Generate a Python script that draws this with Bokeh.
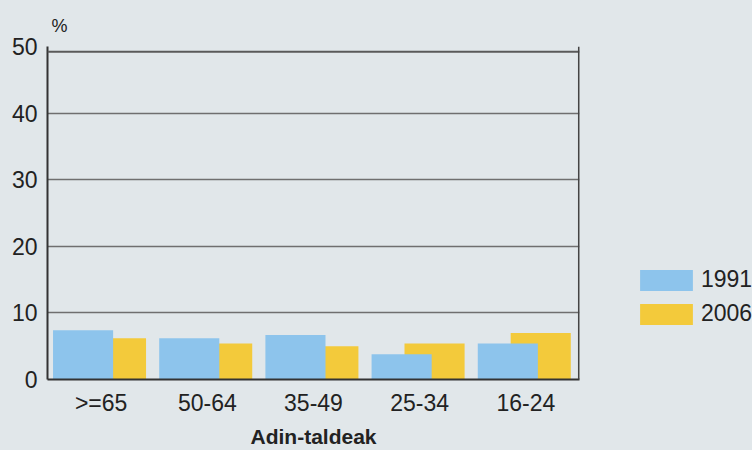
from bokeh.plotting import figure
from bokeh.models import ColumnDataSource, FactorRange, Range1d, Legend, LegendItem, FixedTicker, Span
from bokeh.layouts import row
from bokeh.transform import dodge
from bokeh.embed import file_html
from bokeh.resources import INLINE

categories = [">=65", "50-64", "35-49", "25-34", "16-24"]
values_1991 = [7.4, 6.2, 6.7, 3.8, 5.4]
values_2006 = [6.2, 5.4, 5.0, 5.4, 7.0]
series_names = ["1991", "2006"]
y_ticks = [0, 10, 20, 30, 40, 50]
grid_ticks = [10, 20, 30, 40]

BG = "#e1e7ea"
BLUE = "#8dc4ec"
YELLOW = "#f3ca3b"
FONT = "Liberation Sans"

src = ColumnDataSource(dict(cat=categories, v1991=values_1991, v2006=values_2006))

p = figure(width=580, height=450, output_backend="svg", toolbar_location=None,
           x_range=FactorRange(factors=categories, range_padding=0.002),
           y_range=Range1d(0, 50),
           min_border_left=47, min_border_right=1, min_border_top=46, min_border_bottom=71)
p.background_fill_color = BG
p.border_fill_color = BG
p.outline_line_color = None

r2006 = p.vbar(x=dodge("cat", 0.14, range=p.x_range), top="v2006", width=0.566, source=src,
               fill_color=YELLOW, line_color=None)
r1991 = p.vbar(x=dodge("cat", -0.17, range=p.x_range), top="v1991", width=0.566, source=src,
               fill_color=BLUE, line_color=None)

p.xgrid.grid_line_color = None
p.ygrid.ticker = FixedTicker(ticks=grid_ticks)
p.ygrid.grid_line_color = "#6f6f6f"
p.ygrid.grid_line_width = 1.5
p.yaxis.ticker = FixedTicker(ticks=y_ticks)

# frame border: top edge of the plotted box and right edge
p.add_layout(Span(location=49.2, dimension="width", line_color="#5a5a5a", line_width=2))
p.add_layout(Span(location=5, dimension="height", line_color="#444444", line_width=2))

for ax in (p.xaxis[0], p.yaxis[0]):
    ax.axis_line_color = "#333333"
    ax.axis_line_width = 2
    ax.major_tick_line_color = None
    ax.minor_tick_line_color = None
    ax.major_label_text_font = FONT
    ax.major_label_text_font_size = "23px"
    ax.major_label_text_color = "#222222"
p.yaxis.major_label_standoff = 4
p.xaxis.major_label_standoff = 4
p.xaxis.axis_label = "Adin-taldeak"
p.xaxis.axis_label_text_font = FONT
p.xaxis.axis_label_text_font_size = "21px"
p.xaxis.axis_label_text_font_style = "bold"
p.xaxis.axis_label_text_color = "#222222"
p.xaxis.axis_label_standoff = 6

p.title.text = "%"
p.title.align = "left"
p.title.offset = 4
p.title.standoff = 21
p.title.text_font = FONT
p.title.text_font_size = "18px"
p.title.text_font_style = "normal"
p.title.text_color = "#222222"

# legend panel on the right (zero-size key renderers, only their legend swatches show)
lg = figure(width=172, height=450, output_backend="svg", toolbar_location=None,
            x_range=Range1d(0, 1), y_range=Range1d(0, 1), x_axis_type=None, y_axis_type=None,
            min_border=0)
lg.background_fill_color = BG
lg.border_fill_color = BG
lg.outline_line_color = None
lg.grid.grid_line_color = None
k1991 = lg.vbar(x=[0], top=[0], width=0, fill_color=BLUE, line_color=None)
k2006 = lg.vbar(x=[0], top=[0], width=0, fill_color=YELLOW, line_color=None)
legend = Legend(items=[LegendItem(label=series_names[0], renderers=[k1991]),
                       LegendItem(label=series_names[1], renderers=[k2006])],
                location=(53, 52), padding=0, margin=0, spacing=7,
                glyph_width=66, glyph_height=26, label_height=21, label_standoff=2,
                border_line_alpha=0, background_fill_alpha=0,
                label_text_font=FONT, label_text_font_size="23px", label_text_color="#222222")
lg.add_layout(legend, "center")

layout = row(p, lg, spacing=0)
html = file_html(layout, INLINE)
html = html.replace("</head>", "<style>html,body{background:%s;}</style></head>" % BG, 1)
open("out.html", "w").write(html)
